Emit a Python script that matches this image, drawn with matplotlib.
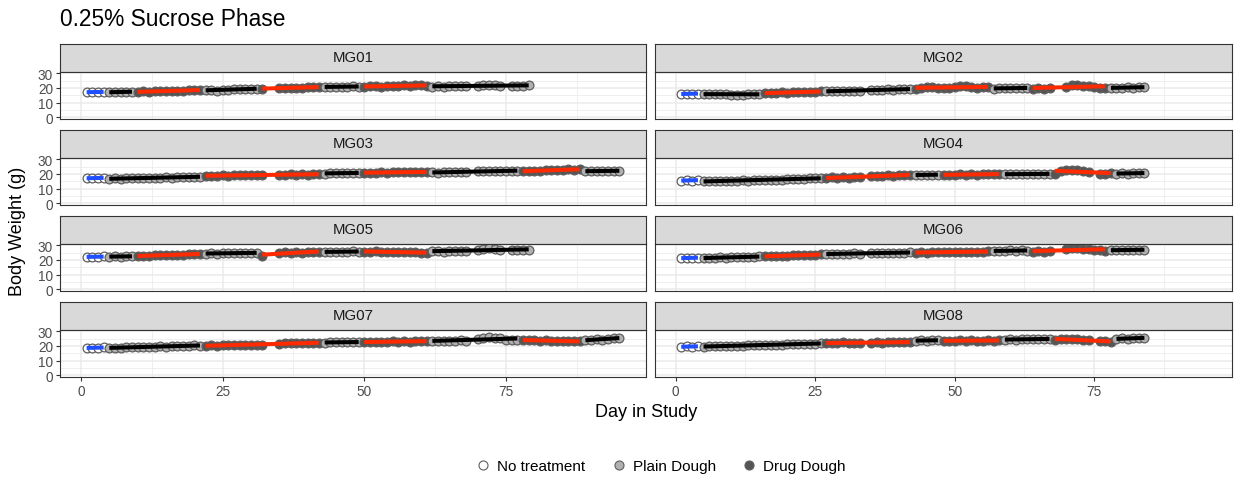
import matplotlib
matplotlib.use("Agg")
import matplotlib.pyplot as plt
from matplotlib.lines import Line2D
import numpy as np

plt.rcParams['font.family'] = ['Liberation Sans', 'DejaVu Sans']

W, H = 1239, 481

# ---------------- data ----------------
title = "0.25% Sucrose Phase"
x_label = "Day in Study"
y_label = "Body Weight (g)"
x_ticks = [0, 25, 50, 75]
y_ticks = [0, 10, 20, 30]
treatments = ["No treatment", "Plain Dough", "Drug Dough"]
trt_codes = ["NT", "P", "D"]

# phase schedules: (treatment, list of (first_day, last_day) runs)
sched_A = [("NT", [(1, 4)]), ("P", [(5, 9)]), ("D", [(10, 21)]), ("P", [(22, 31)]),
           ("D", [(32, 32), (35, 42)]), ("P", [(43, 49)]), ("D", [(50, 61)]),
           ("P", [(62, 68), (70, 74), (76, 79)])]
sched_B = [("NT", [(1, 4)]), ("P", [(5, 15)]), ("D", [(16, 26)]), ("P", [(27, 33), (35, 42)]),
           ("D", [(43, 56)]), ("P", [(57, 63)]), ("D", [(64, 67), (70, 77)]), ("P", [(78, 84)])]
sched_C = [("NT", [(1, 4)]), ("P", [(5, 21)]), ("D", [(22, 32), (35, 42)]), ("P", [(43, 49)]),
           ("D", [(50, 61)]), ("P", [(62, 68), (70, 77)]), ("D", [(78, 88)]), ("P", [(89, 95)])]
sched_D = [("NT", [(1, 4)]), ("P", [(5, 26)]), ("D", [(27, 33), (35, 42)]), ("P", [(43, 47)]),
           ("D", [(48, 58)]), ("P", [(59, 67)]), ("D", [(68, 74), (76, 78)]), ("P", [(79, 84)])]

# body weights per phase (g)
mg01_wt = [[17.1, 17.3, 17.0, 17.4],
           [17.0, 17.2, 17.4, 17.1, 17.5],
           [17.4, 17.6, 17.3, 17.8, 17.6, 18.0, 17.9, 18.2, 18.1, 18.4, 18.3, 18.7],
           [18.9, 18.4, 18.2, 18.6, 18.8, 19.1, 19.0, 19.4, 19.6, 19.3],
           [19.6, 19.9, 20.1, 19.8, 20.3, 20.2, 20.5, 20.4, 20.7],
           [20.6, 20.9, 20.7, 21.0, 20.8, 21.1, 20.9],
           [20.8, 21.1, 21.3, 21.0, 21.4, 21.6, 21.3, 21.8, 21.5, 21.9, 21.7, 21.4],
           [21.0, 21.2, 20.9, 21.3, 21.1, 21.4, 21.2, 21.6, 22.3, 22.1, 21.8, 21.5,
            21.3, 21.6, 21.4, 21.7]]
mg05_wt = [[22.1, 22.3, 22.0, 22.4],
           [22.2, 22.5, 22.3, 22.6, 22.4],
           [22.7, 23.0, 22.8, 23.2, 23.1, 23.5, 23.3, 23.7, 23.6, 24.0, 23.8, 24.2],
           [24.4, 24.6, 24.3, 24.7, 24.5, 24.8, 24.6, 24.9, 25.0, 24.7],
           [22.6, 25.0, 25.2, 24.9, 25.3, 25.1, 25.4, 25.2, 25.5],
           [25.5, 25.7, 25.4, 25.8, 25.6, 25.9, 25.7],
           [25.8, 25.6, 25.9, 25.5, 25.7, 25.4, 25.6, 25.3, 25.5, 25.2, 25.0, 24.8],
           [25.9, 26.1, 25.8, 26.2, 26.0, 26.3, 26.1, 26.8, 27.6, 27.9, 27.4, 26.9,
            26.6, 26.9, 26.7, 27.0]]
mg02_wt = [[15.8, 16.1, 15.9, 16.2],
           [16.0, 15.8, 16.1, 15.7, 15.6, 15.4, 15.2, 15.3, 15.6, 15.9, 16.2],
           [16.4, 16.7, 16.5, 16.9, 16.8, 17.1, 17.0, 17.3, 17.2, 17.5, 17.6],
           [17.8, 18.0, 17.7, 18.1, 17.9, 18.2, 18.0, 18.7, 18.9, 18.6, 19.0, 18.8, 19.1, 19.0, 19.3],
           [19.4, 20.2, 21.0, 20.4, 19.8, 20.1, 20.0, 20.7, 21.3, 21.1, 20.5, 20.3, 20.6, 20.4],
           [19.6, 19.9, 19.7, 20.0, 19.8, 20.1, 19.9],
           [19.5, 19.8, 19.6, 20.0, 20.9, 21.8, 22.0, 21.6, 21.2, 20.4, 20.1, 20.3],
           [20.0, 20.3, 20.1, 20.4, 20.2, 20.6, 20.5]]
mg06_wt = [[21.2, 21.5, 21.3, 21.6],
           [21.3, 21.6, 21.4, 21.7, 21.5, 21.8, 21.9, 22.1, 22.0, 22.3, 22.4],
           [22.5, 22.8, 22.6, 23.0, 22.9, 23.2, 23.1, 23.4, 23.3, 23.6, 23.8],
           [24.0, 24.3, 24.1, 24.4, 24.2, 24.5, 24.3, 24.6, 24.9, 24.7, 25.0, 24.8, 25.1, 24.9, 25.2],
           [25.0, 25.3, 25.1, 25.4, 25.2, 25.5, 25.3, 25.6, 25.4, 25.7, 25.5, 25.8, 25.6, 25.9],
           [26.1, 26.4, 26.2, 26.5, 26.3, 26.6, 26.4],
           [25.6, 25.9, 25.7, 26.0, 27.4, 28.1, 27.9, 27.6, 27.2, 26.8, 26.5, 26.3],
           [26.6, 26.9, 26.7, 27.0, 26.8, 27.1, 26.9]]
mg03_wt = [[17.0, 17.3, 17.1, 17.4],
           [16.8, 17.0, 16.7, 17.1, 16.9, 17.2, 17.0, 17.3, 17.4, 17.2, 17.6, 17.5, 17.8, 17.7,
            18.0, 18.2, 18.1],
           [18.6, 18.9, 18.7, 19.1, 18.9, 19.2, 19.0, 19.3, 19.1, 19.4, 19.2,
            19.5, 19.3, 19.7, 19.5, 19.8, 19.6, 19.9, 19.7],
           [20.3, 20.6, 20.4, 20.7, 20.5, 20.8, 20.6],
           [20.7, 21.0, 20.8, 21.2, 21.0, 21.3, 21.1, 21.4, 21.2, 21.5, 21.3, 21.2],
           [21.2, 21.0, 21.3, 21.1, 21.4, 21.2, 21.5, 21.7, 22.0, 21.8, 22.1, 21.9, 22.2, 22.0, 22.3],
           [21.8, 22.0, 22.3, 22.1, 22.5, 22.7, 22.6, 23.0, 23.2, 22.9, 23.1],
           [22.0, 21.8, 22.1, 21.9, 22.2, 22.0, 22.3]]
mg07_wt = [[18.6, 18.9, 18.7, 19.0],
           [18.7, 18.9, 18.8, 19.1, 19.0, 19.2, 19.4, 19.3, 19.5, 19.7, 19.6, 19.8, 20.0, 19.9,
            20.2, 20.4, 20.3],
           [20.2, 20.5, 20.3, 20.6, 20.4, 20.7, 20.5, 20.8, 20.6, 20.9, 21.0,
            21.6, 21.9, 21.7, 22.0, 21.8, 22.1, 21.9, 22.2],
           [22.3, 22.6, 22.4, 22.7, 22.5, 22.8, 22.6],
           [22.6, 22.9, 22.7, 23.0, 22.8, 23.1, 22.9, 23.2, 23.0, 23.3, 23.1, 23.4],
           [23.4, 23.6, 23.3, 23.7, 23.5, 23.8, 23.6, 24.5, 25.8, 26.1, 25.6, 25.2, 24.3, 24.0, 24.2],
           [24.0, 23.8, 24.1, 23.7, 23.9, 23.5, 23.6, 23.3, 23.4, 23.1, 23.2],
           [23.9, 24.3, 24.6, 24.4, 24.9, 25.2, 25.5]]
mg04_wt = [[15.4, 15.7, 15.5, 15.8],
           [15.2, 15.0, 15.3, 15.1, 15.4, 15.2, 15.5, 15.6, 15.4, 15.7, 15.8, 16.0, 15.9, 16.2,
            16.1, 16.4, 16.5, 16.7, 16.6, 16.9, 17.1, 17.3],
           [17.4, 17.6, 17.3, 17.7, 17.5, 17.8, 17.6, 18.5, 18.8, 18.6, 19.0, 18.9, 19.2, 19.1, 19.4],
           [19.2, 19.5, 19.3, 19.6, 19.4],
           [19.3, 19.6, 19.4, 19.7, 19.5, 19.8, 19.6, 19.9, 19.7, 20.0, 19.8],
           [19.7, 20.0, 19.8, 20.1, 19.9, 20.2, 20.0, 19.8, 20.1],
           [20.2, 21.9, 22.6, 22.9, 22.4, 22.0, 21.5, 20.3, 20.1, 20.4],
           [20.2, 20.5, 20.3, 20.6, 20.4, 20.7]]
mg08_wt = [[19.4, 19.7, 19.5, 19.8],
           [19.6, 19.8, 19.7, 20.0, 19.9, 20.1, 20.3, 20.2, 20.4, 20.6, 20.5, 20.7, 20.9, 20.8,
            21.0, 21.2, 21.1, 21.3, 21.5, 21.4, 21.6, 21.8],
           [21.9, 22.3, 22.0, 22.4, 22.1, 22.2, 21.9, 22.3, 22.5, 22.2, 22.6, 22.4, 22.7, 22.5, 22.8],
           [23.6, 23.9, 23.7, 24.0, 23.8],
           [23.4, 23.7, 23.5, 23.8, 23.6, 23.9, 23.7, 23.5, 23.8, 23.6, 23.9],
           [24.3, 24.6, 24.4, 24.7, 24.5, 24.8, 24.6, 24.9, 24.7],
           [23.8, 24.6, 25.1, 24.8, 24.5, 24.2, 23.9, 23.3, 23.1, 22.9],
           [24.8, 25.2, 25.0, 25.4, 25.3, 25.6]]

mice = ["MG01", "MG02", "MG03", "MG04", "MG05", "MG06", "MG07", "MG08"]
mouse_sched = [sched_A, sched_B, sched_C, sched_D, sched_A, sched_B, sched_C, sched_D]
mouse_wt = [mg01_wt, mg02_wt, mg03_wt, mg04_wt, mg05_wt, mg06_wt, mg07_wt, mg08_wt]

# ---------------- style ----------------
point_fill = {"NT": "#FFFFFF", "P": "#B0B0B0", "D": "#555555"}
line_color = {"NT": "#1F4FFF", "P": "#000000", "D": "#FF2A00"}
point_edge = "#5E5E5E"
border = "#333333"
grid_c = "#EBEBEB"

fig = plt.figure(figsize=(W / 100, H / 100), dpi=100)


def rect(x0, y0, x1, y1):
    return [x0 / W, 1 - y1 / H, (x1 - x0) / W, (y1 - y0) / H]


cols = [(60, 646), (655, 1232)]
strip_h = 28
panel_h = 47.5
row_top0 = 44.5
row_step = 86

for i, name in enumerate(mice):
    r, c = divmod(i, 2)
    x0, x1 = cols[c]
    st = row_top0 + row_step * r
    # strip
    sax = fig.add_axes(rect(x0, st, x1, st + strip_h))
    sax.set_facecolor("#D9D9D9")
    sax.set_xticks([]); sax.set_yticks([])
    for s in sax.spines.values():
        s.set_color(border); s.set_linewidth(0.8)
    sax.text(0.5, 0.5, name, transform=sax.transAxes, ha="center", va="center",
             fontsize=10.8, color="#1A1A1A")
    # panel
    ax = fig.add_axes(rect(x0, st + strip_h, x1, st + strip_h + panel_h))
    ax.set_xlim(-3.7, 99.7)
    ax.set_ylim(-1.3, 31.3)
    ax.set_xticks(x_ticks)
    ax.set_xticks([12.5, 37.5, 62.5, 87.5], minor=True)
    ax.set_yticks(y_ticks)
    ax.set_yticks([5, 15, 25], minor=True)
    ax.grid(True, which="major", color=grid_c, lw=1.1, zorder=0)
    ax.grid(True, which="minor", color=grid_c, lw=0.55, zorder=0)
    ax.set_axisbelow(True)
    for s in ax.spines.values():
        s.set_color(border); s.set_linewidth(0.8)
    ax.tick_params(which="both", length=0)
    ax.tick_params(which="major", length=3, width=0.8, color=border,
                   labelsize=9.8, labelcolor="#4D4D4D", pad=2)
    if c == 1:
        ax.tick_params(axis="y", which="both", left=False, labelleft=False)
    if r < 3:
        ax.tick_params(axis="x", which="both", bottom=False, labelbottom=False)

    sched = mouse_sched[i]
    wts = mouse_wt[i]
    assert len(sched) == len(wts), name
    for (trt, runs), w in zip(sched, wts):
        days = []
        for a, b in runs:
            days.extend(range(a, b + 1))
        assert len(days) == len(w), (name, trt, len(days), len(w))
        ax.scatter(days, w, s=40, facecolor=point_fill[trt], edgecolor=point_edge,
                   linewidth=0.9, zorder=2)
        k, m = np.polyfit(days, w, 1)
        xs = np.array([min(days), max(days)])
        ax.plot(xs, k * xs + m, color=line_color[trt], lw=2.9, zorder=3,
                solid_capstyle="butt")

fig.text(60 / W, 1 - 20 / H, title, ha="left", va="center", fontsize=16.4, color="black")
fig.text(646 / W, 1 - 413 / H, x_label, ha="center", va="center", fontsize=13, color="black")
fig.text(18 / W, 1 - 231 / H, y_label, ha="center", va="center", rotation=90,
         fontsize=13, color="black")

handles = [Line2D([], [], ls="none", marker="o", markersize=6.5,
                  markerfacecolor=point_fill[t], markeredgecolor=point_edge,
                  markeredgewidth=0.8) for t in trt_codes]
fig.legend(handles, treatments, loc="center", bbox_to_anchor=(660 / W, 1 - 467 / H),
           ncol=3, frameon=False, fontsize=11, handletextpad=0.3, columnspacing=1.6,
           handlelength=1.2)

fig.savefig("out.png", dpi=100)
